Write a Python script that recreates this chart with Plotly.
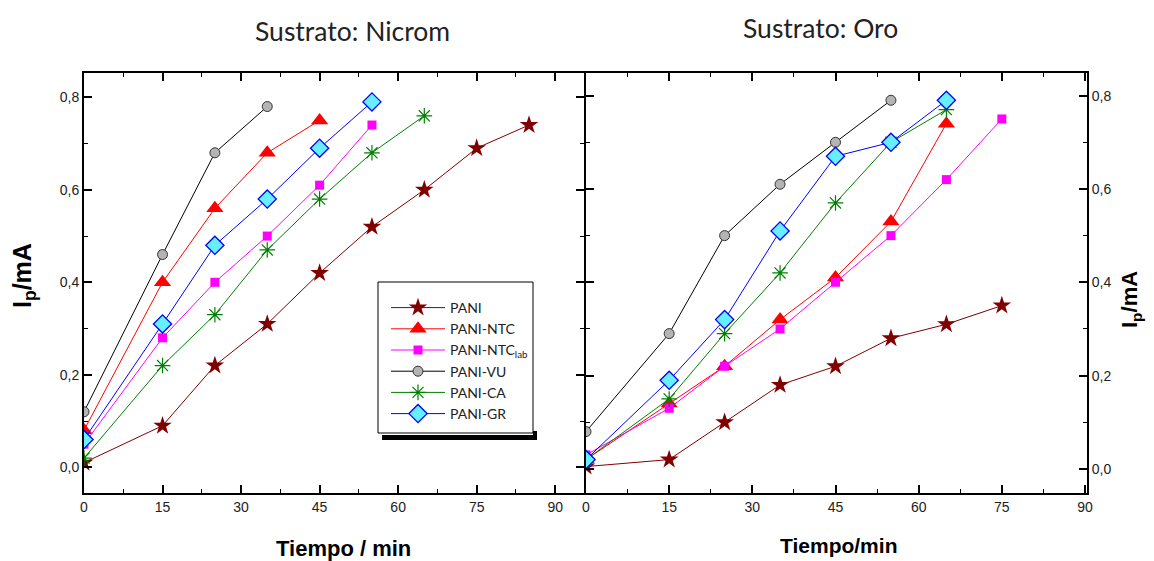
import plotly.graph_objects as go

series = ["PANI", "PANI-NTC", "PANI-NTC<sub>lab</sub>", "PANI-VU", "PANI-CA", "PANI-GR"]

# Sustrato: Nicrom
t_nic_pani = [0, 15, 25, 35, 45, 55, 65, 75, 85]
i_nic_pani = [0.01, 0.09, 0.22, 0.31, 0.42, 0.52, 0.60, 0.69, 0.74]
t_nic_ntc = [0, 15, 25, 35, 45]
i_nic_ntc = [0.08, 0.40, 0.56, 0.68, 0.75]
t_nic_ntclab = [0, 15, 25, 35, 45, 55]
i_nic_ntclab = [0.05, 0.28, 0.40, 0.50, 0.61, 0.74]
t_nic_vu = [0, 15, 25, 35]
i_nic_vu = [0.12, 0.46, 0.68, 0.78]
t_nic_ca = [0, 15, 25, 35, 45, 55, 65]
i_nic_ca = [0.02, 0.22, 0.33, 0.47, 0.58, 0.68, 0.76]
t_nic_gr = [0, 15, 25, 35, 45, 55]
i_nic_gr = [0.06, 0.31, 0.48, 0.58, 0.69, 0.79]

# Sustrato: Oro
t_oro_pani = [0, 15, 25, 35, 45, 55, 65, 75]
i_oro_pani = [0.005, 0.02, 0.10, 0.18, 0.22, 0.28, 0.31, 0.35]
t_oro_ntc = [0, 15, 25, 35, 45, 55, 65]
i_oro_ntc = [0.02, 0.14, 0.22, 0.32, 0.41, 0.53, 0.74]
t_oro_ntclab = [0, 15, 25, 35, 45, 55, 65, 75]
i_oro_ntclab = [0.03, 0.13, 0.22, 0.30, 0.40, 0.50, 0.62, 0.75]
t_oro_vu = [0, 15, 25, 35, 45, 55]
i_oro_vu = [0.08, 0.29, 0.50, 0.61, 0.70, 0.79]
t_oro_ca = [0, 15, 25, 35, 45, 55, 65]
i_oro_ca = [0.02, 0.15, 0.29, 0.42, 0.57, 0.70, 0.77]
t_oro_gr = [0, 15, 25, 35, 45, 55, 65]
i_oro_gr = [0.02, 0.19, 0.32, 0.51, 0.67, 0.70, 0.79]

nicrom = [(t_nic_pani, i_nic_pani), (t_nic_ntc, i_nic_ntc), (t_nic_ntclab, i_nic_ntclab),
          (t_nic_vu, i_nic_vu), (t_nic_ca, i_nic_ca), (t_nic_gr, i_nic_gr)]
oro = [(t_oro_pani, i_oro_pani), (t_oro_ntc, i_oro_ntc), (t_oro_ntclab, i_oro_ntclab),
       (t_oro_vu, i_oro_vu), (t_oro_ca, i_oro_ca), (t_oro_gr, i_oro_gr)]

styles = [
    dict(line="#800000", marker=dict(symbol="star", size=14, color="#800000", line=dict(width=0))),
    dict(line="#FF0000", marker=dict(symbol="triangle-up", size=15, color="#FF0000", line=dict(width=0))),
    dict(line="#FF00FF", marker=dict(symbol="square", size=9, color="#FF00FF", line=dict(width=0))),
    dict(line="#000000", marker=dict(symbol="circle", size=10, color="#B4B4B4", line=dict(width=1, color="#333333"))),
    dict(line="#008000", marker=dict(symbol="asterisk-open", size=13, color="#008000", line=dict(width=1.2, color="#008000"))),
    dict(line="#0000FF", marker=dict(symbol="diamond", size=14, color="#66F0FF", line=dict(width=1.3, color="#0000FF"))),
]

fig = go.Figure()
for k, (name, (t, i)) in enumerate(zip(series, nicrom)):
    s = styles[k]
    fig.add_trace(go.Scatter(x=t, y=i, name=name, mode="lines+markers", xaxis="x", yaxis="y",
                             line=dict(color=s["line"], width=1), marker=s["marker"], showlegend=True))
for k, (name, (t, i)) in enumerate(zip(series, oro)):
    s = styles[k]
    fig.add_trace(go.Scatter(x=t, y=i, name=name, mode="lines+markers", xaxis="x2", yaxis="y2",
                             line=dict(color=s["line"], width=1), marker=s["marker"], showlegend=False))

OFF = 8  # page body margin
W, H = 1154 - OFF, 561 - OFF
L, R, T, B = 84, 1087, 73, 493  # plot area in window pixels


def xp(px):
    return (px - L) / (R - L)


def yp(py):
    return (B - py) / (B - T)


tickfont = dict(family="Liberation Sans, Arial", size=14, color="#222")
common_x = dict(showline=True, linecolor="black", linewidth=2, mirror="ticks", ticks="inside",
                ticklen=8, tickwidth=1.5, tickcolor="black", dtick=15, tick0=0, automargin=False,
                minor=dict(ticks="inside", ticklen=4, dtick=7.5, tickcolor="black", tickwidth=1.2),
                showgrid=False, zeroline=False, tickfont=tickfont)
common_y = dict(showline=True, linecolor="black", linewidth=2, mirror="ticks", ticks="inside",
                ticklen=8, tickwidth=1.5, tickcolor="black", dtick=0.2, tick0=0, tickformat=".1f",
                automargin=False,
                minor=dict(ticks="inside", ticklen=4, dtick=0.1, tickcolor="black", tickwidth=1.2),
                showgrid=False, zeroline=False, tickfont=tickfont)

fig.update_layout(
    width=W, height=H,
    margin=dict(l=L - OFF, r=1154 - R, t=T - OFF, b=561 - B, autoexpand=False),
    paper_bgcolor="white", plot_bgcolor="white", separators=",.",
    xaxis=dict(domain=[0, xp(584)], range=[0, 95.5], anchor="y", **common_x),
    yaxis=dict(domain=[0, 1], range=[-0.0555, 0.8525], anchor="x", **common_y),
    xaxis2=dict(domain=[xp(586), 1], range=[0, 90.36], anchor="y2", **common_x),
    yaxis2=dict(domain=[0, 1], range=[-0.0516, 0.8485], anchor="x2", side="right", **common_y),
    legend=dict(x=xp(386), y=yp(292), xanchor="left", yanchor="top",
                bgcolor="rgba(0,0,0,0)", borderwidth=0,
                font=dict(family="Lato, Open Sans", size=14, color="#222"),
                itemwidth=54, tracegroupgap=0),
    showlegend=True,
)

# legend frame and its shadow
fig.add_shape(type="rect", xref="paper", yref="paper", layer="above",
              x0=xp(378), x1=xp(533), y0=yp(433), y1=yp(282),
              fillcolor="white", line=dict(width=1, color="black"))
fig.add_shape(type="rect", xref="paper", yref="paper", layer="above",
              x0=xp(382), x1=xp(537), y0=yp(440), y1=yp(435),
              fillcolor="black", line=dict(width=0))
fig.add_shape(type="rect", xref="paper", yref="paper", layer="above",
              x0=xp(533), x1=xp(537), y0=yp(436), y1=yp(431),
              fillcolor="black", line=dict(width=0))

ann_font_title = dict(family="Lato, Open Sans", size=26.5, color="#222")
ann_common = dict(xref="paper", yref="paper", showarrow=False, xanchor="center", yanchor="middle")
fig.add_annotation(x=xp(352), y=yp(31), text="Sustrato: Nicrom", font=ann_font_title, **ann_common)
fig.add_annotation(x=xp(820), y=yp(28), text="Sustrato: Oro", font=ann_font_title, **ann_common)
fig.add_annotation(x=xp(343), y=yp(548), text="<b>Tiempo / min</b>",
                   font=dict(family="Liberation Sans, Arial", size=22, color="black"), **ann_common)
fig.add_annotation(x=xp(838), y=yp(545), text="<b>Tiempo/min</b>",
                   font=dict(family="Liberation Sans, Arial", size=21, color="black"), **ann_common)
fig.add_annotation(x=xp(24), y=yp(276), text="<b>I<sub>p</sub>/mA</b>", textangle=-90,
                   font=dict(family="Liberation Sans, Arial", size=25, color="black"), **ann_common)
fig.add_annotation(x=xp(1131), y=yp(300), text="<b>I<sub>p</sub>/mA</b>", textangle=-90,
                   font=dict(family="Liberation Sans, Arial", size=22, color="black"), **ann_common)

fig.write_html("out.html")
